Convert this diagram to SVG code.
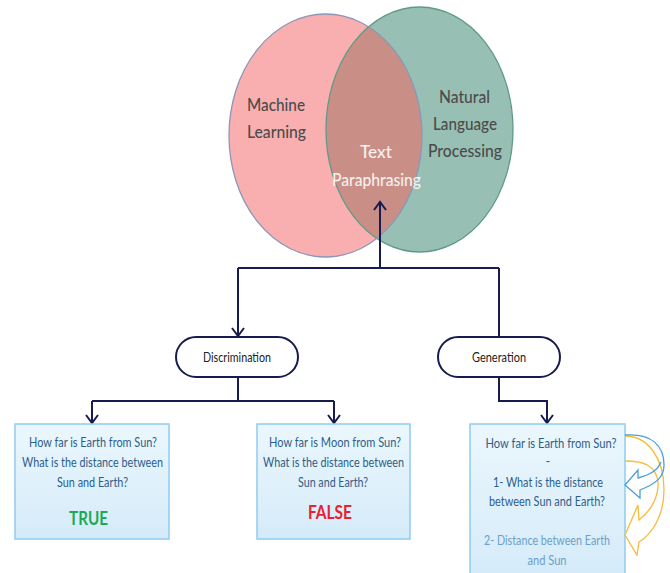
<svg xmlns="http://www.w3.org/2000/svg" width="670" height="573" viewBox="0 0 670 573">
<style>
.conn{fill:none;stroke:#161c4e;stroke-width:2}
.pill{fill:#fff;stroke:#161c4e;stroke-width:2}
.pilltxt{font-family:Lato,"Open Sans",sans-serif;font-size:12.5px;fill:#222;text-anchor:middle}
.venn{font-family:Lato,"Open Sans",sans-serif;font-size:17px;fill:#4b4b4b;text-anchor:middle;font-weight:500}
.vennw{font-family:Lato,"Open Sans",sans-serif;font-size:17px;fill:#f7f0ee;text-anchor:middle;font-weight:500}
.box{fill:url(#bg);stroke:#8ecbf2;stroke-width:1.5}
.bt{font-family:Lato,"Open Sans",sans-serif;font-size:12.8px;fill:#2e5d8a;text-anchor:middle}
.bt2{font-family:Lato,"Open Sans",sans-serif;font-size:12.8px;fill:#6aa0cb;text-anchor:middle}
.big{font-family:Lato,"Open Sans",sans-serif;font-size:18px;font-weight:bold;text-anchor:middle}
</style>
<defs>
<linearGradient id="bg" x1="0" y1="0" x2="0" y2="1">
<stop offset="0" stop-color="#ebf7fd"/>
<stop offset="1" stop-color="#d5ebf9"/>
</linearGradient>
<clipPath id="leftClip"><ellipse cx="325.5" cy="135.5" rx="96.5" ry="121.5"/></clipPath>
<marker id="ah" viewBox="-1 -7 11 14" refX="8" refY="0" markerWidth="11" markerHeight="14" markerUnits="userSpaceOnUse" orient="auto" overflow="visible">
<path d="M0,-6 L8,0 L0,6" fill="none" stroke="#161c4e" stroke-width="2"/>
</marker>
</defs>

<g id="venn">
<ellipse cx="325.5" cy="135.5" rx="96.5" ry="121.5" fill="#f9afaf"/>
<ellipse cx="419.5" cy="129.5" rx="93.5" ry="122.5" fill="#97bfb4"/>
<ellipse cx="419.5" cy="129.5" rx="93.5" ry="122.5" fill="#c98f87" clip-path="url(#leftClip)"/>
<ellipse cx="419.5" cy="129.5" rx="93.5" ry="122.5" fill="none" stroke="#5f9a89" stroke-width="1.3"/>
<ellipse cx="325.5" cy="135.5" rx="96.5" ry="121.5" fill="none" stroke="#8b97b8" stroke-width="1.3"/>
</g>
<g id="ml">
<text class="venn" x="276" y="111" textLength="58" lengthAdjust="spacingAndGlyphs">Machine</text>
<text class="venn" x="276.5" y="138" textLength="59" lengthAdjust="spacingAndGlyphs">Learning</text>
</g>
<g id="nlp">
<text class="venn" x="464.5" y="103" textLength="51" lengthAdjust="spacingAndGlyphs">Natural</text>
<text class="venn" x="465" y="130" textLength="64" lengthAdjust="spacingAndGlyphs">Language</text>
<text class="venn" x="465" y="157" textLength="74" lengthAdjust="spacingAndGlyphs">Processing</text>
</g>
<g id="tp">
<text class="vennw" x="376" y="158" textLength="32" lengthAdjust="spacingAndGlyphs">Text</text>
<text class="vennw" x="376.5" y="186" textLength="89" lengthAdjust="spacingAndGlyphs">Paraphrasing</text>
</g>

<g id="connectors">
<path class="conn" d="M380,268 L380,202" marker-end="url(#ah)"/>
<path class="conn" d="M238,268 L499,268"/>
<path class="conn" d="M238,268 L238,336" marker-end="url(#ah)"/>
<path class="conn" d="M499,268 L499,337"/>
<path class="conn" d="M238,377 L238,401"/>
<path class="conn" d="M92,401 L334,401"/>
<path class="conn" d="M92,401 L92,423" marker-end="url(#ah)"/>
<path class="conn" d="M334,401 L334,423" marker-end="url(#ah)"/>
<path class="conn" d="M499,377 L499,401 L547,401 L547,423" marker-end="url(#ah)"/>
</g>

<g id="discrimination">
<rect class="pill" x="176" y="337" width="122" height="40" rx="20" ry="20"/>
<text class="pilltxt" x="237" y="361.5" textLength="68" lengthAdjust="spacingAndGlyphs">Discrimination</text>
</g>
<g id="generation">
<rect class="pill" x="438" y="337" width="122" height="40" rx="20" ry="20"/>
<text class="pilltxt" x="499" y="361.5" textLength="54" lengthAdjust="spacingAndGlyphs">Generation</text>
</g>

<g id="box1">
<rect class="box" x="15" y="424" width="154" height="115"/>
<text class="bt" x="93" y="446.5" textLength="128" lengthAdjust="spacingAndGlyphs">How far is Earth from Sun?</text>
<text class="bt" x="92.5" y="466.5" textLength="141" lengthAdjust="spacingAndGlyphs">What is the distance between</text>
<text class="bt" x="92.5" y="486.5" textLength="71" lengthAdjust="spacingAndGlyphs">Sun and Earth?</text>
<text class="big" x="88.5" y="524.5" fill="#1caa55" textLength="39" lengthAdjust="spacingAndGlyphs">TRUE</text>
</g>
<g id="box2">
<rect class="box" x="257" y="424" width="153" height="115"/>
<text class="bt" x="335" y="446.5" textLength="132" lengthAdjust="spacingAndGlyphs">How far is Moon from Sun?</text>
<text class="bt" x="333.5" y="466.5" textLength="141" lengthAdjust="spacingAndGlyphs">What is the distance between</text>
<text class="bt" x="333" y="486.5" textLength="70" lengthAdjust="spacingAndGlyphs">Sun and Earth?</text>
<text class="big" x="330" y="518.5" fill="#e8202f" textLength="44" lengthAdjust="spacingAndGlyphs">FALSE</text>
</g>
<g id="box3">
<rect class="box" x="470" y="424" width="155" height="152"/>
<text class="bt" x="551" y="447.5" textLength="131" lengthAdjust="spacingAndGlyphs">How far is Earth from Sun?</text>
<text class="bt" x="548" y="466">-</text>
<text class="bt" x="548" y="486.5" textLength="110" lengthAdjust="spacingAndGlyphs">1- What is the distance</text>
<text class="bt" x="547" y="505.5" textLength="116" lengthAdjust="spacingAndGlyphs">between Sun and Earth?</text>
<text class="bt2" x="547" y="544.5" textLength="126" lengthAdjust="spacingAndGlyphs">2- Distance between Earth</text>
<text class="bt2" x="547" y="564.5" textLength="39" lengthAdjust="spacingAndGlyphs">and Sun</text>
</g>

<g id="curved-arrows">
<path d="M625,436 C648,436 664,458 664,490 C664,516 652,534 639,542 L637,555 L625,535 L638,505 L639,520 C650,512 659,497 658,482 C656,466 645,461 625,461" fill="none" stroke="#f6bb3a" stroke-width="1.3"/>
<path d="M625,435 C652,433 664,446 664,465 C664,478 655,484 640,490 L640,498 L625,485 L638,470 L638,478 C650,475 658,470 661,462" fill="none" stroke="#4aa0d8" stroke-width="1.3"/>
</g>
</svg>
